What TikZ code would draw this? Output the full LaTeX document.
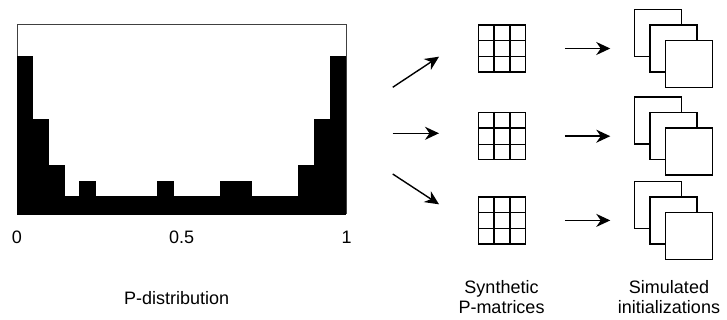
\documentclass[tikz,border=0pt]{standalone}
\usepackage{fontspec}
\setmainfont{Liberation Sans}
\usetikzlibrary{arrows.meta,calc}

\begin{document}
\begin{tikzpicture}[x=1pt,y=-1pt,
  lbl/.style={font=\fontsize{18}{20}\selectfont, inner sep=0pt, align=center},
  arr/.style={line width=1.4pt, -{Stealth[length=14pt,width=13pt,inset=4.5pt]}},
  frame/.style={draw=black!75, line width=1pt, minimum width=328.7pt, minimum height=188.3pt, inner sep=0pt},
  bar/.style={fill=black, draw=black, line width=0.4pt},
  gridbox/.style={draw, line width=1.5pt, minimum size=47pt, inner sep=0pt},
  gridline/.style={line width=1.5pt},
  sheet/.style={draw, fill=white, line width=1.5pt, minimum size=47pt, inner sep=0pt}
]
\useasboundingbox (0,0) rectangle (727,320);

% histogram of P values
\node[frame] (hist) at (181.65,119.15) {};
\foreach \h [count=\i from 0] in {157.6,95,48.3,17.6,32.6,17.6,17.6,17.6,17.6,32.6,17.6,17.6,17.6,32.6,32.6,17.6,17.6,17.6,48.3,95,157.6}
  \path[bar] ($(hist.south west)+(\i*15.652,0)$) rectangle ++(15.652,-\h);

\node[lbl] (x0)  at ($(hist.south west)+(0,23.2)$) {0};
\node[lbl] (x05) at ($(hist.south)+(0,23.2)$) {0.5};
\node[lbl] (x1)  at ($(hist.south east)+(0,23.2)$) {1};
\node[lbl, anchor=base] (pdist) at (176.7,304) {P-distribution};

% sampled 3x3 matrices
\foreach \r/\y in {1/48.5, 2/136.2, 3/220.4} {
  \node[gridbox] (g\r) at (502,\y) {};
  \foreach \f in {1/3,2/3} {
    \draw[gridline] ($(g\r.north west)!\f!(g\r.north east)$) -- ($(g\r.south west)!\f!(g\r.south east)$);
    \draw[gridline] ($(g\r.north west)!\f!(g\r.south west)$) -- ($(g\r.north east)!\f!(g\r.south east)$);
  }
}

% stacks of simulated initializations
\foreach \r/\y in {1/48.5, 2/136.2, 3/220.4} {
  \node[sheet] (b\r) at (658,\y-15.5) {};
  \node[sheet] (m\r) at (673.5,\y) {};
  \node[sheet] (f\r) at (689,\y+15.5) {};
}

% arrows fanning out of the distribution
\coordinate (s1) at (392.7,87.3);   \coordinate (t1) at (439,56.7);
\coordinate (s2) at (392.7,133.3);  \coordinate (t2) at (439,133.3);
\coordinate (s3) at (392.7,174);    \coordinate (t3) at (439,204.3);
\foreach \r in {1,2,3}
  \draw[arr] (s\r) -- (t\r);

% arrows from matrices to initializations
\foreach \r in {1,2,3}
  \draw[arr] ($(g\r.east)+(38.5,0)$) -- ($(b\r.west |- g\r.east)+(-23.5,0)$);

\node[lbl] (synth) at (501.5,296.8) {Synthetic\\P-matrices};
\node[lbl] (simul) at (669,296.8) {Simulated\\initializations};
\end{tikzpicture}
\end{document}
